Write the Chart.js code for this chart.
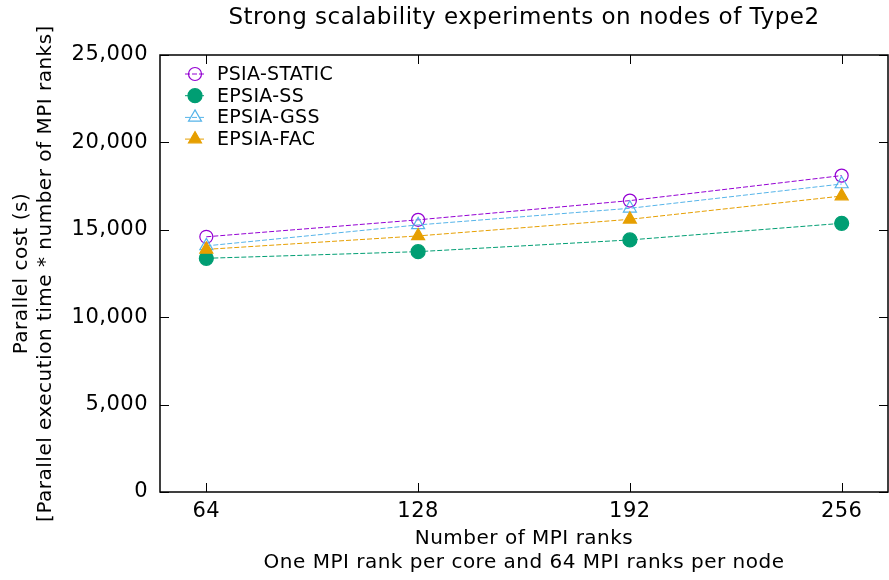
<!DOCTYPE html>
<html>
<head>
<meta charset="utf-8">
<script src="https://cdn.jsdelivr.net/npm/chart.js@4.4.1/dist/chart.umd.min.js"></script>
<style>
html, body { margin: 0; padding: 0; background: #fff; }
</style>
</head>
<body>
<canvas id="chart" width="889" height="580"></canvas>
<script>
// chart data
const chartTitle = 'Strong scalability experiments on nodes of Type2';
const ranks = [64, 128, 192, 256];
const xTicks = [64, 128, 192, 256];
const seriesNames = ['PSIA-STATIC', 'EPSIA-SS', 'EPSIA-GSS', 'EPSIA-FAC'];
const psiaStatic = [14600, 15570, 16670, 18100];
const epsiaSS = [13370, 13750, 14420, 15370];
const epsiaGSS = [14080, 15280, 16230, 17620];
const epsiaFAC = [13880, 14650, 15600, 16930];

const FONT = 'DejaVu Sans';

function pts(vals) {
    return ranks.map((r, i) => ({x: r, y: vals[i]}));
}

function makeSet(label, vals, color, style, filled, radius, order) {
    return {
        label: label,
        data: pts(vals),
        borderColor: color,
        borderWidth: 1,
        borderDash: [5, 2],
        pointStyle: style,
        pointRadius: radius,
        pointHoverRadius: radius,
        pointBorderWidth: 1.2,
        pointBorderColor: color,
        pointBackgroundColor: filled ? color : 'rgba(0,0,0,0)',
        fill: false,
        tension: 0,
        order: order
    };
}

// gnuplot-ish text spacing for everything chart.js writes
const spacingPlugin = {
    id: 'spacing',
    beforeUpdate(chart) { chart.ctx.letterSpacing = '0.5px'; },
    beforeDraw(chart) { chart.ctx.letterSpacing = '0.5px'; }
};

// draw the frame and inward ticks like gnuplot
const framePlugin = {
    id: 'frame',
    afterDatasetsDraw(chart) {
        const {ctx, chartArea: a, scales} = chart;
        ctx.save();
        ctx.strokeStyle = '#000';
        ctx.lineWidth = 1.5;
        ctx.strokeRect(a.left, a.top, a.right - a.left, a.bottom - a.top);
        ctx.lineWidth = 1;
        const t = 9;
        ctx.beginPath();
        scales.x.ticks.forEach(tk => {
            const x = Math.round(scales.x.getPixelForValue(tk.value)) + 0.5;
            ctx.moveTo(x, a.bottom); ctx.lineTo(x, a.bottom - t);
            ctx.moveTo(x, a.top); ctx.lineTo(x, a.top + t);
        });
        scales.y.ticks.forEach(tk => {
            const y = Math.round(scales.y.getPixelForValue(tk.value)) + 0.5;
            ctx.moveTo(a.left, y); ctx.lineTo(a.left + t, y);
            ctx.moveTo(a.right, y); ctx.lineTo(a.right - t, y);
        });
        ctx.stroke();
        ctx.restore();
    }
};

function drawMarker(ctx, style, x, y, r, color, filled) {
    ctx.beginPath();
    if (style === 'triangle') {
        for (let k = 0; k < 3; k++) {
            const ang = k * 2 * Math.PI / 3;
            const px = x + Math.sin(ang) * r, py = y - Math.cos(ang) * r;
            if (k === 0) ctx.moveTo(px, py); else ctx.lineTo(px, py);
        }
        ctx.closePath();
    } else {
        ctx.arc(x, y, r, 0, Math.PI * 2);
    }
    if (filled) { ctx.fillStyle = color; ctx.fill(); }
    ctx.strokeStyle = color;
    ctx.lineWidth = 1.2;
    ctx.stroke();
}

// legend inside the plot, top left, plus title centered on plot area
const keyPlugin = {
    id: 'key',
    afterDraw(chart) {
        const {ctx, chartArea: a} = chart;
        ctx.save();
        ctx.fillStyle = '#000';
        ctx.letterSpacing = '0.5px';
        ctx.font = '23px "' + FONT + '"';
        ctx.textAlign = 'center';
        ctx.textBaseline = 'middle';
        ctx.fillText(chartTitle, (a.left + a.right) / 2, 18);

        chart.data.datasets.forEach((ds, i) => {
            const y = a.top + 19 + i * 21.7;
            const x0 = a.left + 25, x1 = a.left + 45;
            ctx.strokeStyle = ds.borderColor;
            ctx.lineWidth = 1;
            ctx.setLineDash(ds.borderDash);
            ctx.beginPath();
            ctx.moveTo(x0, y); ctx.lineTo(x1, y);
            ctx.stroke();
            ctx.setLineDash([]);
            const filled = ds.pointBackgroundColor !== 'rgba(0,0,0,0)';
            drawMarker(ctx, ds.pointStyle, (x0 + x1) / 2, y, ds.pointRadius, ds.borderColor, filled);
            ctx.fillStyle = '#000';
            ctx.letterSpacing = '0.3px';
            ctx.font = '19px "' + FONT + '"';
            ctx.textAlign = 'left';
            ctx.fillText(ds.label, a.left + 57, y + 1);
        });
        ctx.restore();
    }
};

const ctx = document.querySelector('#chart').getContext('2d');
const chart = new Chart(ctx, {
    type: 'line',
    data: {
        datasets: [
            makeSet(seriesNames[0], psiaStatic, '#9400d3', 'circle', false, 6.5, 4),
            makeSet(seriesNames[1], epsiaSS, '#009e73', 'circle', true, 7, 3),
            makeSet(seriesNames[2], epsiaGSS, '#56b4e9', 'triangle', false, 7.5, 2),
            makeSet(seriesNames[3], epsiaFAC, '#e69f00', 'triangle', true, 7.5, 1)
        ]
    },
    options: {
        responsive: false,
        animation: false,
        devicePixelRatio: 1,
        layout: { autoPadding: false, padding: { top: 55, right: 1, left: 0, bottom: 0 } },
        plugins: {
            legend: { display: false },
            title: { display: false },
            tooltip: { enabled: false }
        },
        scales: {
            x: {
                type: 'linear',
                min: 50,
                max: 270,
                afterBuildTicks(scale) {
                    scale.ticks = xTicks.map(v => ({value: v}));
                },
                afterFit(scale) {
                    scale.height = 88;
                    scale.paddingLeft = 0;
                    scale.paddingRight = 0;
                },
                grid: { display: false, drawTicks: false },
                border: { display: false },
                ticks: {
                    color: '#000',
                    font: { family: FONT, size: 21 },
                    padding: 7,
                    maxRotation: 0,
                    callback: v => String(v)
                },
                title: {
                    display: true,
                    text: ['Number of MPI ranks', 'One MPI rank per core and 64 MPI ranks per node'],
                    color: '#000',
                    font: { family: FONT, size: 20, lineHeight: 1.2 },
                    padding: { top: 0, bottom: 5 }
                }
            },
            y: {
                min: 0,
                max: 25000,
                afterFit(scale) {
                    scale.width = 160;
                    scale.paddingTop = 0;
                    scale.paddingBottom = 0;
                },
                grid: { display: false, drawTicks: false },
                border: { display: false },
                ticks: {
                    stepSize: 5000,
                    color: '#000',
                    font: { family: FONT, size: 21 },
                    padding: 12,
                    callback: v => v.toLocaleString('en-US')
                },
                title: {
                    display: true,
                    text: ['Parallel cost (s)', '[Parallel execution time * number of MPI ranks]'],
                    color: '#000',
                    font: { family: FONT, size: 20, lineHeight: 1.2 },
                    padding: { top: 10, bottom: 0 }
                }
            }
        }
    },
    plugins: [spacingPlugin, framePlugin, keyPlugin]
});
</script>
</body>
</html>
